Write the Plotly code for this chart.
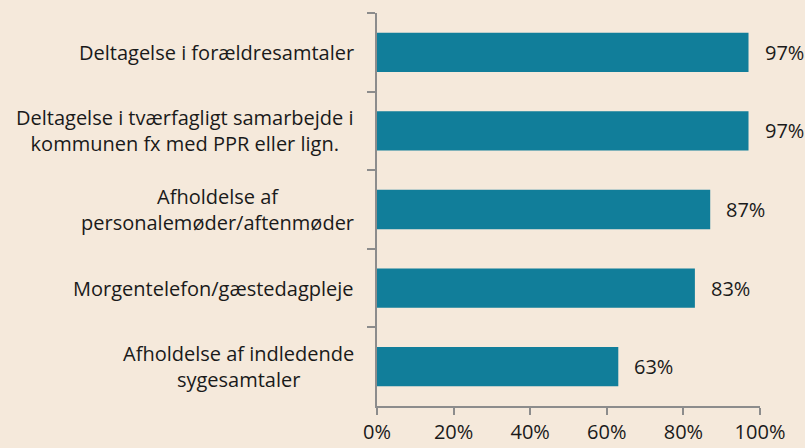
import plotly.graph_objects as go

categories = [
    "Deltagelse i forældresamtaler",
    "Deltagelse i tværfagligt samarbejde i<br>kommunen fx med PPR eller lign.",
    "Afholdelse af<br>personalemøder/aftenmøder",
    "Morgentelefon/gæstedagpleje",
    "Afholdelse af indledende<br>sygesamtaler",
]
values = [0.97, 0.97, 0.87, 0.83, 0.63]
value_labels = ["97%", "97%", "87%", "83%", "63%"]
x_tickvals = [0, 0.2, 0.4, 0.6, 0.8, 1.0]
x_ticktext = ["0%", "20%", "40%", "60%", "80%", "100%"]

BG = "#F5E9DB"
BAR = "#117E9A"
AXIS = "#8C8C8C"
TXT = "#1A1A1A"
FONT = "Open Sans"
FS = 20

fig = go.Figure()
fig.add_trace(go.Bar(
    x=values, y=categories, orientation="h",
    marker=dict(color=BAR, line=dict(width=0)),
    hoverinfo="skip",
))

annotations = []
for c, v, lab in zip(categories, values, value_labels):
    annotations.append(dict(x=v, y=c, xref="x", yref="y", text=lab, showarrow=False,
                            xanchor="left", xshift=14, font=dict(size=FS, color=TXT, family=FONT)))
    annotations.append(dict(x=0, y=c, xref="paper", yref="y", text=c, showarrow=False,
                            xanchor="right", xshift=-21, align="center",
                            font=dict(size=FS, color=TXT, family=FONT)))

fig.update_layout(
    width=805, height=448,
    margin=dict(l=377, r=45, t=13, b=42, autoexpand=False),
    paper_bgcolor=BG, plot_bgcolor=BG,
    bargap=0.5,
    showlegend=False,
    font=dict(family=FONT, size=FS, color=TXT),
    annotations=annotations,
    xaxis=dict(range=[0, 1], tickvals=x_tickvals, ticktext=x_ticktext, automargin=False,
               showgrid=False, zeroline=False, showline=True, linecolor=AXIS, linewidth=2,
               ticks="outside", ticklen=7, tickwidth=2, tickcolor=AXIS,
               tickfont=dict(size=FS, color=TXT, family=FONT)),
    yaxis=dict(autorange="reversed", showticklabels=False, showgrid=False, zeroline=False,
               showline=True, linecolor=AXIS, linewidth=2, automargin=False,
               ticks="outside", tickson="boundaries", ticklen=8, tickwidth=2, tickcolor=AXIS),
)

fig.write_html("out.html", config={"displayModeBar": False},
               post_script="document.body.style.margin='0';document.body.style.background='%s';" % BG)
